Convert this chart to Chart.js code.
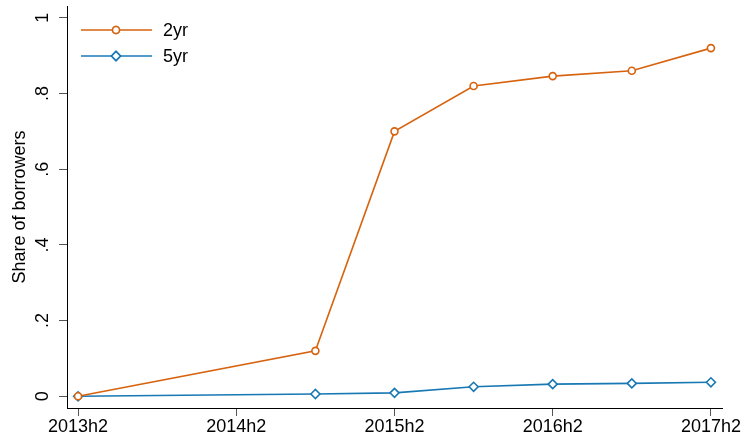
<!DOCTYPE html>
<html>
<head>
<meta charset="utf-8">
<script src="https://cdn.jsdelivr.net/npm/chart.js@4/dist/chart.umd.min.js"></script>
<style>
  html, body { margin: 0; padding: 0; background: #fff; }
  #wrap { width: 745px; height: 444px; }
</style>
</head>
<body>
<div id="wrap"><canvas id="chart" width="745" height="444"></canvas></div>
<script>
// half-years since 2013h2
const halfYear = [0, 3, 4, 5, 6, 7, 8];
const share2yr = [0, 0.12, 0.70, 0.82, 0.846, 0.86, 0.92];
const share5yr = [0, 0.006, 0.009, 0.025, 0.032, 0.034, 0.037];

const xTicks = [0, 2, 4, 6, 8];
const xTickLabels = ['2013h2', '2014h2', '2015h2', '2016h2', '2017h2'];
const yTicks = [0, 0.2, 0.4, 0.6, 0.8, 1];
const yTickLabels = ['0', '.2', '.4', '.6', '.8', '1'];

const orange = '#D7630F';
const blue = '#1878B4';
const font = 'Liberation Sans, Arial, sans-serif';

const toPoints = vals => vals.map((v, i) => ({ x: halfYear[i], y: v }));

// rotated y labels, y title and the line+marker legend
const extras = {
    id: 'extras',
    afterDraw(chart) {
        const ctx = chart.ctx;
        const y = chart.scales.y;
        ctx.save();
        ctx.fillStyle = '#000';
        ctx.font = '18px ' + font;
        ctx.textAlign = 'center';
        ctx.textBaseline = 'middle';
        y.ticks.forEach((t, i) => {
            ctx.save();
            ctx.translate(43, y.getPixelForValue(t.value));
            ctx.rotate(-Math.PI / 2);
            ctx.fillText(yTickLabels[i], 0, 0);
            ctx.restore();
        });
        ctx.save();
        ctx.translate(20, (y.top + y.bottom) / 2);
        ctx.rotate(-Math.PI / 2);
        ctx.fillText('Share of borrowers', 0, 0);
        ctx.restore();

        chart.data.datasets.forEach((ds, i) => {
            const ly = 30 + i * 26;
            ctx.strokeStyle = ds.borderColor;
            ctx.lineWidth = 1.6;
            ctx.beginPath();
            ctx.moveTo(81, ly);
            ctx.lineTo(152, ly);
            ctx.stroke();
            Chart.helpers.drawPoint(ctx, {
                pointStyle: ds.pointStyle,
                radius: ds.pointRadius,
                borderWidth: ds.pointBorderWidth,
                rotation: 0
            }, 116, ly);
            ctx.fillStyle = '#fff';
            ctx.fill();
            ctx.stroke();
            ctx.fillStyle = '#000';
            ctx.textAlign = 'left';
            ctx.fillText(ds.label, 163, ly + 1);
        });
        ctx.restore();
    }
};

new Chart(document.getElementById('chart'), {
    type: 'line',
    data: {
        datasets: [{
            label: '2yr',
            data: toPoints(share2yr),
            borderColor: orange,
            backgroundColor: '#fff',
            borderWidth: 1.6,
            pointStyle: 'circle',
            pointRadius: 3.5,
            pointBorderWidth: 1.6,
            pointBackgroundColor: '#fff',
            pointBorderColor: orange
        }, {
            label: '5yr',
            data: toPoints(share5yr),
            borderColor: blue,
            backgroundColor: '#fff',
            borderWidth: 1.6,
            pointStyle: 'rectRot',
            pointRadius: 4.5,
            pointBorderWidth: 1.6,
            pointBackgroundColor: '#fff',
            pointBorderColor: blue
        }]
    },
    options: {
        responsive: false,
        animation: false,
        layout: { padding: { top: 5, right: 23, left: 0, bottom: 0 } },
        plugins: { legend: { display: false }, tooltip: { enabled: false } },
        scales: {
            x: {
                type: 'linear',
                min: -0.14,
                max: 8.14,
                afterBuildTicks: s => { s.ticks = xTicks.map(v => ({ value: v })); },
                afterFit: s => { s.height = 36; },
                grid: { drawOnChartArea: false, tickLength: 8, color: '#555' },
                border: { color: '#000', width: 1 },
                ticks: {
                    color: '#000',
                    font: { family: font, size: 18 },
                    padding: 0,
                    maxRotation: 0,
                    callback: (v) => xTickLabels[xTicks.indexOf(v)]
                }
            },
            y: {
                min: -0.031,
                max: 1.031,
                afterBuildTicks: s => { s.ticks = yTicks.map(v => ({ value: v })); },
                afterFit: s => { s.width = 67; },
                grid: { drawOnChartArea: false, tickLength: 8, color: '#555' },
                border: { color: '#000', width: 1 },
                ticks: { display: false }
            }
        }
    },
    plugins: [extras]
});
</script>
</body>
</html>
